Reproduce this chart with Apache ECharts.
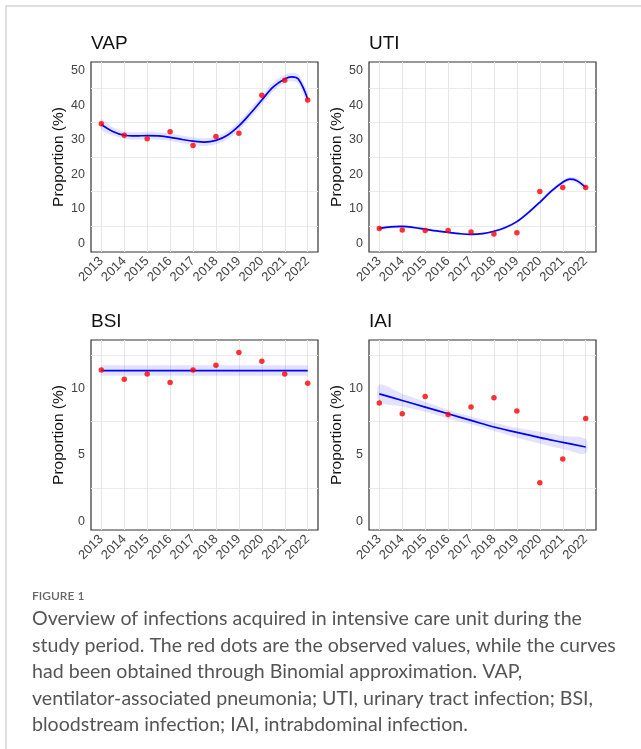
<!DOCTYPE html>
<html>
<head>
<meta charset="utf-8">
<script src="https://cdn.jsdelivr.net/npm/echarts@6/dist/echarts.min.js"></script>
<style>
html,body{margin:0;padding:0;background:#fff;}
#chart{width:641px;height:749px;}
</style>
</head>
<body>
<div id="chart"></div>
<script>
// ---------- data ----------
const years = [2013, 2014, 2015, 2016, 2017, 2018, 2019, 2020, 2021, 2022];
const panelTitles = ['VAP', 'UTI', 'BSI', 'IAI'];

const vapObs = [34.6, 31.3, 30.3, 32.3, 28.3, 30.9, 31.9, 42.9, 47.2, 41.5];
const utiObs = [4.3, 3.9, 3.7, 3.7, 3.3, 2.7, 3.1, 15.0, 16.2, 16.2];
const bsiObs = [11.4, 10.7, 11.1, 10.45, 11.4, 11.75, 12.7, 12.05, 11.1, 10.4];
const iaiObs = [8.9, 8.1, 9.4, 8.05, 8.6, 9.3, 8.3, 2.9, 4.7, 7.75];

// fitted curves, read at these x positions
const fitX = [2013, 2013.5, 2014, 2014.5, 2015, 2015.5, 2016, 2016.5, 2017, 2017.5, 2018, 2018.5, 2019, 2019.5, 2020, 2020.5, 2021, 2021.3, 2021.6, 2022];
const vapFit = [34.4, 32.4, 31.3, 31.1, 31.2, 31.1, 30.7, 30.1, 29.6, 29.3, 29.8, 31.3, 34.0, 37.6, 41.5, 45.3, 47.6, 48.2, 47.5, 41.8];
const vapLo  = [32.9, 31.2, 30.2, 30.0, 30.1, 30.0, 29.6, 29.0, 28.5, 28.2, 28.7, 30.1, 32.7, 36.3, 40.2, 44.0, 46.4, 47.0, 46.2, 40.2];
const vapHi  = [35.9, 33.6, 32.4, 32.2, 32.3, 32.2, 31.8, 31.2, 30.7, 30.4, 30.9, 32.5, 35.3, 38.9, 42.8, 46.6, 48.8, 49.4, 48.8, 43.4];

const utiFit = [4.35, 4.8, 4.9, 4.6, 4.1, 3.6, 3.2, 2.8, 2.6, 2.8, 3.5, 4.6, 6.3, 8.9, 11.9, 15.1, 17.7, 18.6, 18.2, 16.2];
const utiLo  = [3.9, 4.4, 4.5, 4.2, 3.8, 3.3, 2.9, 2.5, 2.3, 2.5, 3.2, 4.2, 5.9, 8.4, 11.4, 14.5, 17.1, 18.0, 17.5, 15.5];
const utiHi  = [4.8, 5.2, 5.3, 5.0, 4.4, 3.9, 3.5, 3.1, 2.9, 3.1, 3.8, 5.0, 6.7, 9.4, 12.4, 15.7, 18.3, 19.2, 18.9, 16.9];

const bsiFit = [11.35, 11.35, 11.35, 11.35, 11.35, 11.35, 11.35, 11.35, 11.35, 11.35];
const bsiLo  = [10.95, 10.95, 10.95, 10.95, 10.95, 10.95, 10.95, 10.95, 10.95, 10.95];
const bsiHi  = [11.75, 11.75, 11.75, 11.75, 11.75, 11.75, 11.75, 11.75, 11.75, 11.75];

const iaiFit = [9.6, 9.1, 8.6, 8.1, 7.6, 7.1, 6.7, 6.3, 5.95, 5.6];
const iaiLo  = [9.0, 8.65, 8.25, 7.75, 7.3, 6.8, 6.3, 5.85, 5.45, 5.1];
const iaiHi  = [10.3, 9.6, 9.0, 8.4, 7.9, 7.45, 7.05, 6.75, 6.45, 6.2];

const yTicksBig = [0, 10, 20, 30, 40, 50];
const yGridBig = [5, 15, 25, 35, 45];
const yTicksSmall = [0, 5, 10];
const yGridSmall = [2.5, 7.5, 12.5];

const captionHead = 'FIGURE 1';
const captionLines = [
  'Overview of infections acquired in intensive care unit during the',
  'study period. The red dots are the observed values, while the curves',
  'had been obtained through Binomial approximation. VAP,',
  'ventilator-associated pneumonia; UTI, urinary tract infection; BSI,',
  'bloodstream infection; IAI, intrabdominal infection.'
];

// ---------- layout ----------
const grids = [
  {left: 91, top: 62, width: 227, height: 190},
  {left: 369, top: 62, width: 227, height: 190},
  {left: 91, top: 340, width: 227, height: 190},
  {left: 369, top: 340, width: 227, height: 190}
];
const yRanges = [
  {min: -2.5, max: 52.5, labels: yTicksBig, lines: yGridBig},
  {min: -2.5, max: 52.5, labels: yTicksBig, lines: yGridBig},
  {min: -0.65, max: 13.65, labels: yTicksSmall, lines: yGridSmall},
  {min: -0.65, max: 13.65, labels: yTicksSmall, lines: yGridSmall}
];
const panels = [
  {obs: vapObs, fx: fitX, fit: vapFit, lo: vapLo, hi: vapHi, sm: 0.35},
  {obs: utiObs, fx: fitX, fit: utiFit, lo: utiLo, hi: utiHi, sm: 0.35},
  {obs: bsiObs, fx: years, fit: bsiFit, lo: bsiLo, hi: bsiHi, sm: 0},
  {obs: iaiObs, fx: years, fit: iaiFit, lo: iaiLo, hi: iaiHi, sm: 0.3}
];

const FONT = '"Liberation Sans", Arial, sans-serif';
const CAPFONT = 'Lato, "Open Sans", sans-serif';

const option = {
  backgroundColor: '#fff',
  animation: false,
  title: panelTitles.map((t, i) => ({
    text: t, left: grids[i].left, top: grids[i].top - 28, padding: 0,
    textStyle: {fontFamily: FONT, fontSize: 19, fontWeight: 'normal', color: '#111'}
  })),
  grid: grids.map(g => Object.assign({show: true, borderColor: '#333', borderWidth: 1.2, backgroundColor: 'transparent'}, g)),
  xAxis: grids.map((g, i) => ({
    type: 'value', gridIndex: i, min: 2012.55, max: 2022.45,
    axisLine: {show: false},
    axisTick: {show: false, customValues: years},
    axisLabel: {customValues: years, rotate: 45, margin: 7, color: '#444', fontSize: 13, fontFamily: FONT, formatter: v => String(v)},
    splitLine: {show: true, lineStyle: {color: '#e6e6e6', width: 1}}
  })),
  yAxis: grids.map((g, i) => ({
    type: 'value', gridIndex: i, min: yRanges[i].min, max: yRanges[i].max,
    name: 'Proportion (%)', nameLocation: 'middle', nameGap: 23, nameRotate: 90,
    nameTextStyle: {fontFamily: FONT, fontSize: 15.5, color: '#111'},
    axisLine: {show: false},
    axisTick: {show: false, customValues: yRanges[i].lines},
    axisLabel: {customValues: yRanges[i].labels, margin: 6, color: '#444', fontSize: 12.5, fontFamily: FONT},
    splitLine: {show: true, lineStyle: {color: '#ebebeb', width: 1}}
  })),
  series: [],
  graphic: []
};

panels.forEach((p, i) => {
  option.series.push({
    type: 'custom', xAxisIndex: i, yAxisIndex: i, z: 1, silent: true,
    data: p.fx.map((x, k) => [x, p.lo[k], p.hi[k]]),
    encode: {x: 0, y: [1, 2]},
    renderItem: function (params, api) {
      if (params.dataIndex !== 0) return null;
      const pts = [];
      for (let k = 0; k < p.fx.length; k++) pts.push(api.coord([p.fx[k], p.hi[k]]));
      for (let k = p.fx.length - 1; k >= 0; k--) pts.push(api.coord([p.fx[k], p.lo[k]]));
      return {
        type: 'polygon',
        shape: {points: pts, smooth: p.sm},
        style: {fill: 'rgba(40,40,255,0.13)', stroke: 'none'}
      };
    }
  });
  option.series.push({
    type: 'line', xAxisIndex: i, yAxisIndex: i, smooth: 0.35, symbol: 'none', z: 3,
    lineStyle: {color: '#0000ff', width: 1.7},
    data: p.fx.map((x, k) => [x, p.fit[k]])
  });
  option.series.push({
    type: 'scatter', xAxisIndex: i, yAxisIndex: i, symbolSize: 5.5, z: 4,
    itemStyle: {color: '#ff0000'},
    data: years.map((x, k) => [x, p.obs[k]])
  });
});

// frame around the figure
option.graphic.push({
  type: 'rect', shape: {x: 6, y: 6, width: 700, height: 800},
  style: {fill: 'none', stroke: '#d4d4d4', lineWidth: 1.5}, silent: true
});
option.graphic.push({
  type: 'text', left: 32, top: 590,
  style: {text: captionHead, font: '600 12px ' + CAPFONT, fill: '#666'}
});
captionLines.forEach((line, k) => {
  option.graphic.push({
    type: 'text', left: 32, top: 609 + k * 26.5,
    style: {text: line, font: '19.6px ' + CAPFONT, fill: '#555'}
  });
});

const chart = echarts.init(document.getElementById('chart'), null, {renderer: 'canvas'});
chart.setOption(option);
</script>
</body>
</html>
